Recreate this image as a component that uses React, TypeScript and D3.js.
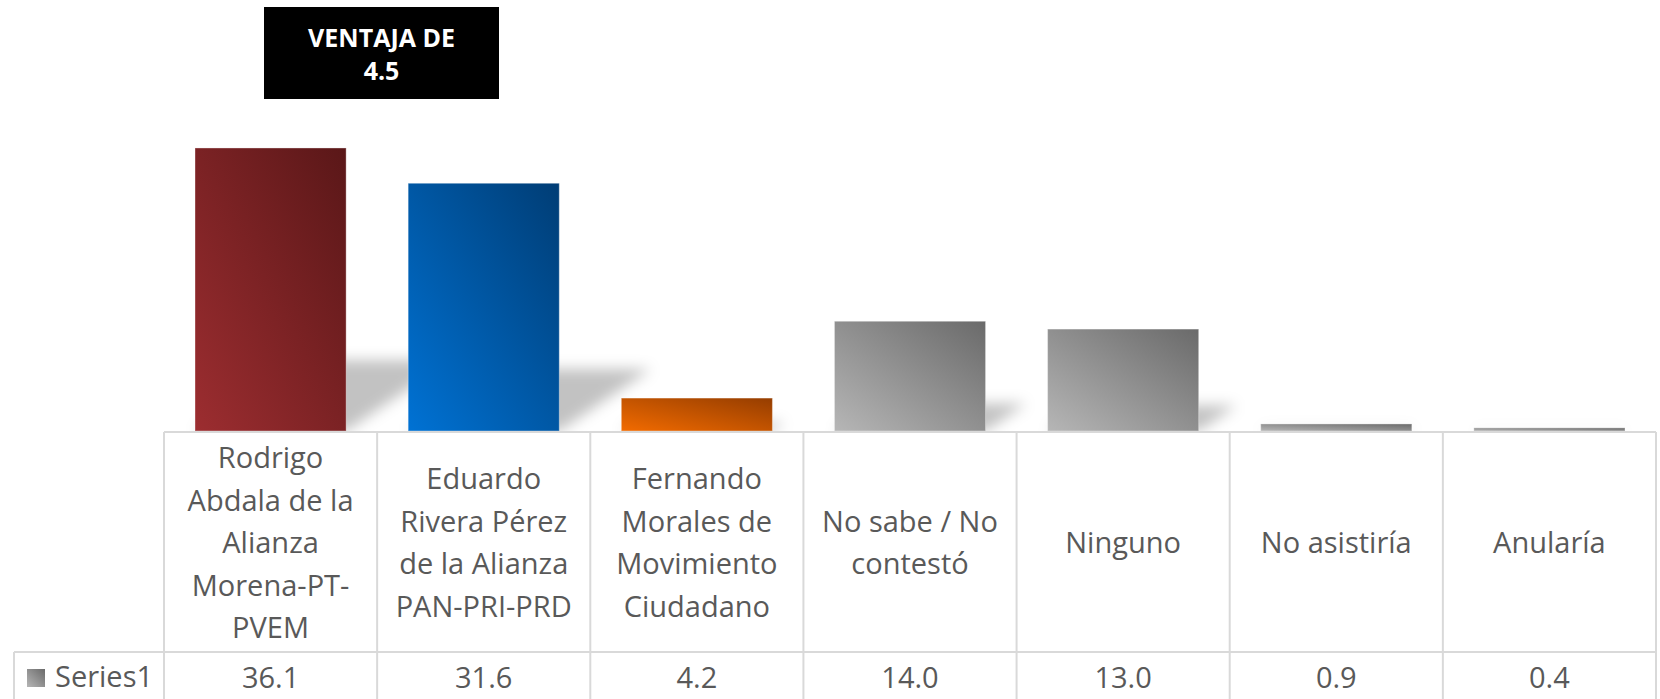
import React from 'react'
import * as d3 from 'd3'

// datos de la encuesta
const categories = ['Rodrigo', 'Eduardo', 'Fernando', 'NoSabe', 'Ninguno', 'NoAsistiria', 'Anularia']
const labelLines = [
  ['Rodrigo', 'Abdala de la', 'Alianza', 'Morena-PT-', 'PVEM'],
  ['Eduardo', 'Rivera Pérez', 'de la Alianza', 'PAN-PRI-PRD'],
  ['Fernando', 'Morales de', 'Movimiento', 'Ciudadano'],
  ['No sabe / No', 'contestó'],
  ['Ninguno'],
  ['No asistiría'],
  ['Anularía'],
]
const values = [36.1, 31.6, 4.2, 14.0, 13.0, 0.9, 0.4]
const seriesName = 'Series1'
const annotation = ['VENTAJA DE', '4.5']

// degradado: [abajo-izq, arriba-der]
const barColors = [
  ['#9c2d30', '#5a1718'],
  ['#0072d4', '#003d75'],
  ['#f26b00', '#953d00'],
  ['#b6b6b6', '#6a6a6a'],
  ['#b6b6b6', '#6a6a6a'],
  ['#b6b6b6', '#6a6a6a'],
  ['#b6b6b6', '#6a6a6a'],
]

const W = 1660
const H = 699
const base = 431
const tableLeft = 164
const tableRight = 1656
const headerBottom = 652
const lineH = 42.5
const gridColor = '#d9d9d9'
const textColor = '#595959'
const font = '"Open Sans", sans-serif'

const App = () => {
  const x = d3.scaleBand<string>()
    .domain(categories)
    .range([tableLeft, tableRight])
    .paddingInner(0.291)
    .paddingOuter(0.1455)

  const y = d3.scaleLinear().domain([0, 40]).range([base, base - 313.6])
  const step = x.step()
  const fmt = d3.format('.1f')
  const bw = x.bandwidth()

  const shadowPath = (i: number) => {
    const x0 = x(categories[i])!
    const x1 = x0 + bw
    const h = base - y(values[i])
    const dx = h * 0.37
    const dy = h * 0.25
    return `M${x0},${base}L${x1},${base}L${x1 + dx},${base - dy}L${x0 + dx},${base - dy}Z`
  }

  const midY = (base + headerBottom) / 2 + 11.5

  return (
    <svg width={W} height={H} style={{position: 'fixed', left: 0, top: 0, background: '#fff'}}
      fontFamily={font}>
      <defs>
        {barColors.map((c, i) => (
          <linearGradient key={i} id={`g${i}`} x1="0" y1="1" x2="1" y2="0">
            <stop offset="0" stopColor={c[0]} />
            <stop offset="1" stopColor={c[1]} />
          </linearGradient>
        ))}
        <linearGradient id="leg" x1="0" y1="1" x2="1" y2="0">
          <stop offset="0" stopColor="#b6b6b6" />
          <stop offset="1" stopColor="#6a6a6a" />
        </linearGradient>
        <filter id="blur" x="-50%" y="-50%" width="200%" height="200%">
          <feGaussianBlur stdDeviation="7" />
        </filter>
        <clipPath id="above">
          <rect x={0} y={0} width={W} height={base} />
        </clipPath>
      </defs>

      {/* sombras */}
      <g clipPath="url(#above)">
        <g filter="url(#blur)">
          {values.map((v, i) => (
            <path key={i} d={shadowPath(i)} fill="#000" fillOpacity={0.24} />
          ))}
        </g>
      </g>

      {/* barras */}
      {values.map((v, i) => (
        <rect key={i}
          x={x(categories[i])}
          y={y(v)}
          width={bw}
          height={base - y(v)}
          fill={`url(#g${i})`}
          stroke="#fff" strokeOpacity={0.35} strokeWidth={1} />
      ))}

      {/* tabla de datos */}
      <g stroke={gridColor} strokeWidth={2} fill="none">
        <line x1={tableLeft} x2={tableRight} y1={base + 1} y2={base + 1} />
        <line x1={14} x2={tableRight} y1={headerBottom} y2={headerBottom} />
        <line x1={14} x2={14} y1={headerBottom} y2={H} />
        {d3.range(categories.length + 1).map(i => (
          <line key={i} x1={tableLeft + i * step} x2={tableLeft + i * step} y1={base + 1} y2={H} />
        ))}
      </g>

      {labelLines.map((lines, i) => (
        <text key={i} textAnchor="middle" fontSize={29} fill={textColor}>
          {lines.map((l, j) => (
            <tspan key={j} x={x(categories[i])! + bw / 2}
              y={midY + (j - (lines.length - 1) / 2) * lineH}>{l}</tspan>
          ))}
        </text>
      ))}

      <rect x={27} y={669} width={18} height={18} fill="url(#leg)" />
      <text x={55} y={687} fontSize={29} fill={textColor}>{seriesName}</text>
      {values.map((v, i) => (
        <text key={i} x={x(categories[i])! + bw / 2} y={688} textAnchor="middle"
          fontSize={29} fill={textColor}>{fmt(v)}</text>
      ))}

      {/* recuadro de ventaja */}
      <rect x={264} y={7} width={235} height={92} fill="#000" />
      <text textAnchor="middle" fontSize={25} fontWeight="bold" fill="#fff">
        {annotation.map((t, j) => (
          <tspan key={j} x={381.5} y={47 + j * 33}>{t}</tspan>
        ))}
      </text>
    </svg>
  )
}

export default App
